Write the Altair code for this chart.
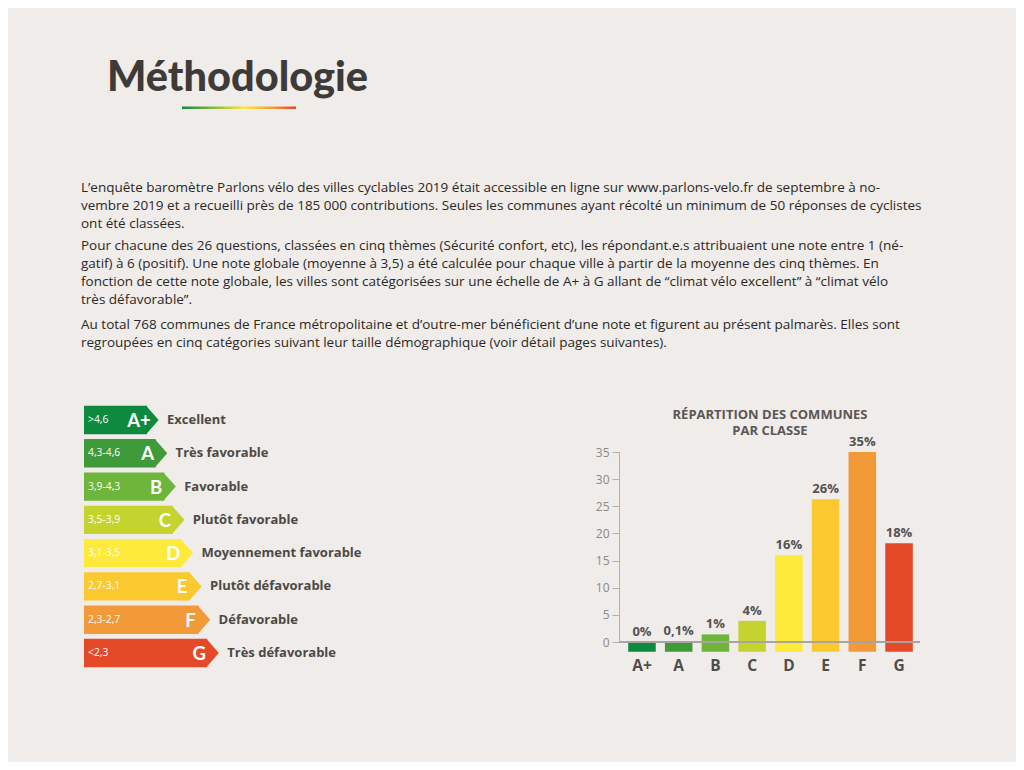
import altair as alt
import pandas as pd

# ---------------- data ----------------
page_title = "Méthodologie"
paragraphs = [
    [
        "L’enquête baromètre Parlons vélo des villes cyclables 2019 était accessible en ligne sur www.parlons-velo.fr de septembre à no-",
        "vembre 2019 et a recueilli près de 185 000 contributions. Seules  les communes ayant récolté un minimum de 50 réponses de cyclistes",
        "ont été classées.",
    ],
    [
        "Pour chacune des 26 questions, classées en cinq thèmes (Sécurité confort, etc), les répondant.e.s attribuaient une note entre 1 (né-",
        "gatif) à 6 (positif). Une note globale (moyenne à 3,5) a été calculée pour chaque ville à partir de la moyenne des cinq thèmes. En",
        "fonction de cette note globale, les villes sont catégorisées sur une échelle de A+ à G allant de “climat vélo excellent” à “climat vélo",
        "très défavorable”.",
    ],
    [
        "Au total 768 communes de France métropolitaine et d’outre-mer bénéficient d’une note et figurent au présent palmarès. Elles sont",
        "regroupées en cinq catégories suivant leur taille démographique (voir détail pages suivantes).",
    ],
]
classes = ["A+", "A", "B", "C", "D", "E", "F", "G"]
ranges = [">4,6", "4,3-4,6", "3,9-4,3", "3,5-3,9", "3,1-3,5", "2,7-3,1", "2,3-2,7", "<2,3"]
descriptions = ["Excellent", "Très favorable", "Favorable", "Plutôt favorable",
                "Moyennement favorable", "Plutôt défavorable", "Défavorable", "Très défavorable"]
shares = [0.0, 0.1, 1.4, 3.9, 16.0, 26.3, 35.0, 18.2]
share_labels = ["0%", "0,1%", "1%", "4%", "16%", "26%", "35%", "18%"]
chart_title = ["RÉPARTITION DES COMMUNES", "PAR CLASSE"]
y_ticks = [0, 5, 10, 15, 20, 25, 30, 35]

# ---------------- style ----------------
BG = "#efece9"
FONT = "Open Sans"
TFONT = "Lato"
DARK = "#3d3a37"
LABEL = "#4c4946"
colors = ["#0e8a3e", "#3f9a3a", "#6db53b", "#c5d32e", "#fdea3a", "#fcc830", "#f39a38", "#e44a28"]
color_scale = alt.Scale(domain=classes, range=colors)

# arrow lengths grow with rank (layout only)
arrow_len = [63 + 8.6 * i for i in range(len(classes))]

df_left = pd.DataFrame({"cls": classes, "rng": ranges, "desc": descriptions, "len": arrow_len})
df_right = pd.DataFrame({"cls": classes, "pct": shares, "plab": share_labels})

# ---------------- left panel: energy-label arrows ----------------
xs_left = alt.Scale(domain=[0, 100], range=[76, 176], zero=False, nice=False)
ys_left = alt.Scale(domain=classes, range=[395.4, 661.6], paddingInner=0.147, paddingOuter=0.0735)
x_len = alt.X("len:Q", scale=xs_left, axis=None)
y_cls = alt.Y("cls:N", scale=ys_left, axis=None, sort=classes)
col = alt.Color("cls:N", scale=color_scale, legend=None)

base_left = alt.Chart(df_left)
rects = base_left.mark_rect(strokeWidth=0).encode(x=x_len, x2=alt.X2(datum=0), y=y_cls, color=col)
tips = base_left.mark_point(
    shape="M-0.06,-1L0.82,0L-0.06,1Z", size=807, filled=True, opacity=1, strokeWidth=0
).encode(x=x_len, y=y_cls, color=col)
rng_txt = base_left.mark_text(
    align="left", baseline="middle", font=FONT, fontSize=10.3, color="white", dx=4
).encode(x=alt.X(datum=0, scale=xs_left, axis=None), y=y_cls, text="rng:N")
letters = base_left.mark_text(
    align="center", baseline="middle", font=TFONT, fontSize=18.5, fontWeight="bold", color="white", dx=-8, dy=1
).encode(x=x_len, y=y_cls, text="cls:N")
descs = base_left.mark_text(
    align="left", baseline="middle", font=FONT, fontSize=13, fontWeight="bold", color=LABEL, dx=20
).encode(x=x_len, y=y_cls, text="desc:N")
left = alt.layer(rects, tips, rng_txt, letters, descs)

# ---------------- right panel: bar chart ----------------
xs_right = alt.Scale(domain=classes, range=[615.6, 909.4], paddingInner=0.25, paddingOuter=0.125)
ys_right = alt.Scale(domain=[0, 35], range=[634, 444], zero=False, nice=False)
y_axis = alt.Axis(
    orient="left", offset=-611, values=y_ticks, grid=False, title=None,
    domainColor="#b3b0ad", tickColor="#b3b0ad", tickSize=7, labelColor="#8c8986",
    labelFont=FONT, labelFontSize=12, labelPadding=3, domainWidth=1, tickWidth=1,
)
x_cls = alt.X("cls:N", scale=xs_right, axis=None, sort=classes)
y_pct = alt.Y("pct:Q", scale=ys_right, axis=y_axis)

base_right = alt.Chart(df_right)
bars = base_right.mark_bar(strokeWidth=0).encode(
    x=x_cls, y=y_pct, y2=alt.Y2(datum=-1.8), color=col
)
zero_line = base_right.mark_rule(color="#a7a4a1", strokeWidth=1).encode(
    y=alt.Y(datum=0, type="quantitative", scale=ys_right, axis=y_axis),
    x=alt.value(611), x2=alt.value(912),
)
val_txt = base_right.mark_text(
    baseline="bottom", font=FONT, fontSize=13, fontWeight="bold", color="#55524f", dy=-3
).encode(x=x_cls, y=y_pct, text="plab:N")
cat_txt = base_right.mark_text(
    baseline="middle", font=FONT, fontSize=15.5, fontWeight="bold", color="#4f4c49"
).encode(x=x_cls, y=alt.value(657.5), text="cls:N")
right = alt.layer(bars, zero_line, val_txt, cat_txt)

# ---------------- header & body text ----------------
one = alt.Data(values=[{}])
title_layer = alt.Chart(one).mark_text(
    text=page_title, align="left", baseline="alphabetic", font=TFONT, fontSize=41.5,
    fontWeight=900, color=DARK,
).encode(x=alt.value(99), y=alt.value(83))

underline = alt.Chart(one).mark_rect(
    fill=alt.Gradient(
        gradient="linear", x1=0, x2=1, y1=0, y2=0,
        stops=[
            alt.GradientStop(offset=0, color="#0e8a3e"),
            alt.GradientStop(offset=0.3, color="#8cc03b"),
            alt.GradientStop(offset=0.55, color="#fde83a"),
            alt.GradientStop(offset=0.8, color="#f39a38"),
            alt.GradientStop(offset=1, color="#e44a28"),
        ],
    )
).encode(x=alt.value(174), x2=alt.value(288), y=alt.value(98.5), y2=alt.value(101))

para_y = [184, 242, 321]
body_layers = [
    alt.Chart(one).mark_text(
        text=lines, align="left", baseline="alphabetic", font=FONT, fontSize=13.5,
        lineHeight=18, color="#2b2826",
    ).encode(x=alt.value(73), y=alt.value(py))
    for lines, py in zip(paragraphs, para_y)
]

chart_title_layer = alt.Chart(one).mark_text(
    text=chart_title, align="center", baseline="alphabetic", font=FONT, fontSize=13,
    fontWeight="bold", lineHeight=16, color="#5a5754",
).encode(x=alt.value(762), y=alt.value(411))

chart = alt.layer(
    left, right, title_layer, underline, *body_layers, chart_title_layer
).resolve_scale(
    x="independent", y="independent", color="independent"
).properties(
    width=1008, height=754, padding=0, background=BG,
    autosize=alt.AutoSizeParams(type="none"),
).configure_view(stroke=None)

chart.save("out.html", embed_options={"renderer": "svg", "actions": False})
